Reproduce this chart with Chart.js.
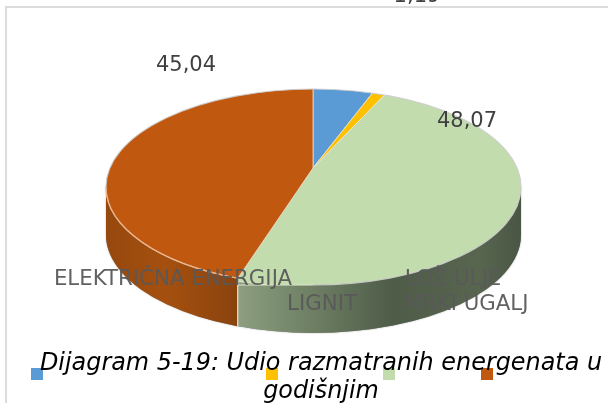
<!DOCTYPE html>
<html><head><meta charset="utf-8">
<script src="https://cdn.jsdelivr.net/npm/chart.js@4"></script>
<style>html,body{margin:0;padding:0;background:#fff}canvas{display:block}</style>
</head><body><canvas id="c" width="608" height="403"></canvas>
<script>
const categories = ['ELEKTRIČNA ENERGIJA','LIGNIT','LOŽ ULJE','MRKI UGALJ'];
const shares = [5.70, 1.19, 48.07, 45.04];
const shareLabels = ['', '1,19', '48,07', '45,04'];
const colors = ['#5b9bd5','#ffc000','#c3dcae','#c1580f'];
const caption = ['Dijagram 5-19: Udio razmatranih energenata u','godišnjim'];

const P = {ax:313, ay:168, k:0.472, cx:313.5, cy:187, rx:207.5, ry:98, d:48};
const labelPos = [[173,279],[322,304],[453,279],[466,304]];
const valuePos = [null,[417,2],[467,120],[186,64]];
const legendX = [31,266,383,481];
const font = '"DejaVu Sans"';

function topPath(ctx){ctx.beginPath();ctx.ellipse(P.cx,P.cy,P.rx,P.ry,0,0,Math.PI*2);}
function rayHit(a){
  const dx=Math.cos(a),dy=P.k*Math.sin(a);
  const ox=(P.ax-P.cx)/P.rx,oy=(P.ay-P.cy)/P.ry,ux=dx/P.rx,uy=dy/P.ry;
  const A=ux*ux+uy*uy,B=2*(ox*ux+oy*uy),C=ox*ox+oy*oy-1;
  const t=(-B+Math.sqrt(B*B-4*A*C))/(2*A);
  return P.ax+t*dx;
}
const pie3d = {
  id:'pie3d',
  beforeDraw(chart){
    const c=chart.ctx;
    c.save();c.fillStyle='#fff';c.fillRect(0,0,608,403);
    c.strokeStyle='#dcdcdc';c.lineWidth=2;c.strokeRect(6,7,640,440);c.restore();
  },
  beforeDatasetsDraw(chart){
    const c=chart.ctx, arcs=chart.getDatasetMeta(0).data;
    const xb=rayHit(arcs[3].startAngle);
    const wall=()=>{c.beginPath();c.moveTo(P.cx+P.rx,P.cy);c.lineTo(P.cx+P.rx,P.cy+P.d);
      c.ellipse(P.cx,P.cy+P.d,P.rx,P.ry,0,0,Math.PI);c.lineTo(P.cx-P.rx,P.cy);c.closePath();};
    c.save();
    c.shadowColor='rgba(120,120,120,.55)';c.shadowBlur=2;wall();c.fillStyle='#888';c.fill();c.shadowColor='transparent';
    c.save();c.beginPath();c.rect(0,0,xb,403);c.clip();
    let g=c.createLinearGradient(P.cx-P.rx,0,xb,0);
    g.addColorStop(0,'#96480e');g.addColorStop(.45,'#a5500f');g.addColorStop(1,'#8a430e');
    wall();c.fillStyle=g;c.fill();c.restore();
    c.save();c.beginPath();c.rect(xb,0,608,403);c.clip();
    g=c.createLinearGradient(xb,0,P.cx+P.rx,0);
    g.addColorStop(0,'#8d9f80');g.addColorStop(.18,'#77896c');g.addColorStop(.55,'#4e5c48');g.addColorStop(.85,'#586650');g.addColorStop(1,'#4a5644');
    wall();c.fillStyle=g;c.fill();c.restore();
    c.strokeStyle='#ece6d6';c.lineWidth=1.2;c.beginPath();c.moveTo(xb,P.cy+P.ry*Math.sqrt(1-((xb-P.cx)/P.rx)**2));
    c.lineTo(xb,P.cy+P.d+P.ry*Math.sqrt(1-((xb-P.cx)/P.rx)**2));c.stroke();
    c.restore();
  },
  beforeDatasetDraw(chart){
    const c=chart.ctx, meta=chart.getDatasetMeta(0), el=meta.data[0];
    const xb=rayHit(meta.data[3].startAngle);
    c.save();topPath(c);c.rect(xb,P.cy+70,P.cx-xb,P.ry-70);c.clip();
    c.translate(P.ax,P.ay);c.scale(1,P.k);c.translate(-el.x,-el.y);
  },
  afterDatasetDraw(chart){
    const c=chart.ctx;
    c.restore();
    const xb=rayHit(chart.getDatasetMeta(0).data[3].startAngle);
    const ab=Math.acos((xb-P.cx)/P.rx);
    c.save();
    c.beginPath();c.ellipse(P.cx,P.cy,P.rx,P.ry,0,Math.PI/2,ab,true);c.strokeStyle='rgba(205,205,205,.9)';c.lineWidth=1.2;c.stroke();
    c.beginPath();c.moveTo(xb,P.cy+P.ry);c.lineTo(P.cx,P.cy+P.ry);c.strokeStyle='#dfe6d0';c.stroke();
    c.beginPath();c.ellipse(P.cx,P.cy,P.rx,P.ry,0,ab,Math.PI);c.strokeStyle='#f0b183';c.lineWidth=1.2;c.stroke();
    c.restore();
  },
  afterDraw(chart){
    const c=chart.ctx;
    c.save();
    c.textAlign='center';c.textBaseline='middle';
    c.font='21.3px '+font;c.fillStyle='rgba(89,89,89,.95)';
    categories.forEach((t,i)=>c.fillText(t,labelPos[i][0],labelPos[i][1]));
    c.font='21px '+font;c.fillStyle='#404040';c.textBaseline='alphabetic';
    shareLabels.forEach((t,i)=>{if(valuePos[i])c.fillText(t,valuePos[i][0],valuePos[i][1]+(i===1?0:7));});
    colors.forEach((col,i)=>{c.fillStyle=col;c.fillRect(legendX[i],368,12,12);});
    c.fillStyle='#000';c.font='italic 23.9px '+font;
    c.fillText(caption[0],321,370);c.fillText(caption[1],321,398);
    c.restore();
  }
};
new Chart(document.getElementById('c'),{
  type:'pie',
  data:{labels:categories,datasets:[{data:shares,backgroundColor:colors,borderColor:'#e9e6d8',borderWidth:1,clip:false}]},
  options:{responsive:false,animation:false,radius:252,layout:{padding:{left:18}},
    plugins:{legend:{display:false},tooltip:{enabled:false},title:{display:false}}},
  plugins:[pie3d]
});
</script></body></html>
